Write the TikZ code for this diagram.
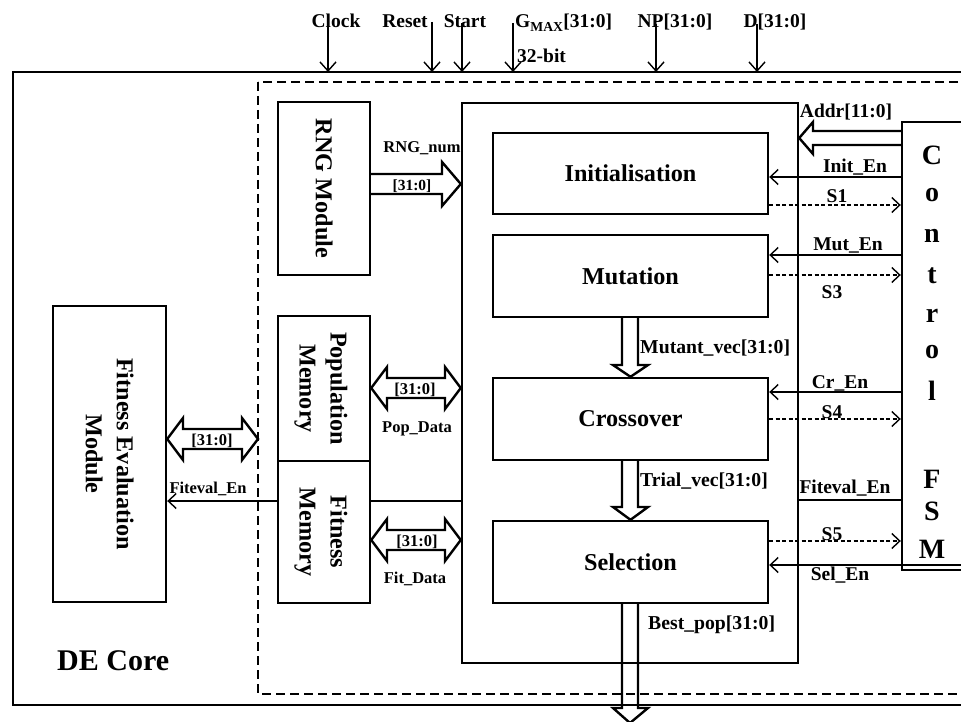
\documentclass[tikz,border=0pt]{standalone}
\usepackage{fontspec}
\setmainfont{Liberation Serif}
\usetikzlibrary{arrows.meta,calc}
\begin{document}
\begin{tikzpicture}[x=1pt,y=-1pt,
  box/.style={draw,line width=2.4pt,inner sep=0pt,align=center,
    font=\bfseries\fontsize{24.2}{31}\selectfont},
  sig/.style={line width=1.4pt,-{Straight Barb[length=8pt,width=15pt,line width=1.4pt]}},
  plain/.style={line width=1.4pt},
  ret/.style={sig,dash pattern=on 4pt off 2.5pt},
  fat/.style={line width=2.4pt,line join=miter},
  inp/.style={line width=1.4pt,-{Straight Barb[length=9pt,width=16pt,line width=1.4pt]}},
  lab/.style={font=\bfseries\fontsize{19.5}{22}\selectfont,inner sep=0pt,anchor=base},
  slab/.style={font=\bfseries\fontsize{16.5}{20}\selectfont,inner sep=0pt,anchor=base},
  mlab/.style={font=\bfseries\fontsize{19.7}{23}\selectfont,inner sep=0pt,anchor=base west},
  tlab/.style={font=\bfseries\fontsize{19.5}{23}\selectfont,inner sep=0pt,anchor=base},
  fsmletter/.style={font=\bfseries\fontsize{28}{30}\selectfont,inner sep=0pt,anchor=base},
]
\useasboundingbox (0,0) rectangle (961,722);
\clip (0,0) rectangle (961,722);

% containers
\draw[line width=2.4pt] (13,72) rectangle (990,705);
\draw[line width=2.4pt,dash pattern=on 9pt off 5pt] (258,82) rectangle (990,694);

% blocks
\node[box,minimum width=336,minimum height=560] (main) at (630,383) {};
\node[box,minimum width=275,minimum height=81] (init) at (630.5,173.5) {Initialisation};
\node[box,minimum width=275,minimum height=82] (mut) at (630.5,276) {\raisebox{-6pt}{Mutation}};
\node[box,minimum width=275,minimum height=82] (cross) at (630.5,419) {Crossover};
\node[box,minimum width=275,minimum height=82] (sel) at (630.5,562) {Selection};
\node[box,minimum width=92,minimum height=173] (rng) at (324,188.5) {};
\node[box,rotate=-90,draw=none] at (rng.center) {RNG Module};
\node[box,minimum width=92,minimum height=145] (pop) at (324,388.5) {};
\node[box,rotate=-90,draw=none] at ([xshift=-3pt]pop.center) {Population\\Memory};
\node[box,minimum width=92,minimum height=142] (fit) at (324,532) {};
\node[box,rotate=-90,draw=none] at ([xshift=-3pt]fit.center) {Fitness\\Memory};
\node[box,minimum width=113,minimum height=296] (fem) at (109.5,454) {};
\node[box,rotate=-90,draw=none] at (fem.center) {Fitness Evaluation\\Module};
\node[box,minimum width=88,minimum height=448] (fsm) at (946,346) {};
\foreach \ch/\yy in {C/165,o/202,n/243,t/283,r/322,o/358,l/400,F/488,S/520,M/558}
  \node[fsmletter] at (932,\yy) {\ch};

\node[font=\bfseries\fontsize{30}{34}\selectfont,inner sep=0pt,anchor=base west] (de) at (57,670) {DE Core};

% top inputs
\node[tlab] (clk) at (336,28) {Clock};
\node[tlab] (rst) at (405,28) {Reset};
\node[tlab] (stt) at (465,28) {Start};
\node[tlab,anchor=base west] (gmax) at (515,28) {G\textsubscript{MAX}[31:0]};
\node[tlab,anchor=base west] (bits) at (517,63) {32-bit};
\node[tlab] (np) at (675,28) {NP[31:0]};
\node[tlab] (dd) at (775,28) {D[31:0]};
\foreach \xx/\ys in {328/15,432/22,462/23,513/23,656/24,757/24}{
  \coordinate (in\xx) at (\xx,\ys);
  \draw[inp] (in\xx) -- (\xx,72);
}

% fat arrows
\draw[fat] (rng.east |- 0,174) -- (442,174) -- (442,162) -- (main.west |- 0,184) -- (442,206) -- (442,194) -- (rng.east |- 0,194);
\draw[fat] (fsm.west |- 0,131) -- (813,131) -- (813,122) -- (main.east |- 0,138) -- (813,154) -- (813,145) -- (fsm.west |- 0,145);
\draw[fat] (pop.east |- 0,388) -- (387,367) -- (387,378) -- (445,378) -- (445,367) -- (main.west |- 0,388) -- (445,409) -- (445,398) -- (387,398) -- (387,409) -- cycle;
\draw[fat] (fit.east |- 0,540) -- (387,519) -- (387,530) -- (445,530) -- (445,519) -- (main.west |- 0,540) -- (445,561) -- (445,550) -- (387,550) -- (387,561) -- cycle;
\draw[fat] (fem.east |- 0,439) -- (183,418) -- (183,429) -- (242,429) -- (242,418) -- (258,439) -- (242,460) -- (242,449) -- (183,449) -- (183,460) -- cycle;
\draw[fat] (622,0 |- mut.south) -- (622,365) -- (613,365) -- (cross.north) -- (648,365) -- (638,365) -- (638,0 |- mut.south);
\draw[fat] (622,0 |- cross.south) -- (622,507) -- (613,507) -- (sel.north) -- (648,507) -- (638,507) -- (638,0 |- cross.south);
\coordinate (out) at (630,723);
\draw[fat] (622,0 |- sel.south) -- (622,708) -- (613,708) -- (out) -- (648,708) -- (638,708) -- (638,0 |- sel.south);

% control signals
\draw[sig] (fsm.west |- 0,177) -- (init.east |- 0,177);
\draw[ret] (init.east |- 0,205) -- (fsm.west |- 0,205);
\draw[sig] (fsm.west |- 0,255) -- (mut.east |- 0,255);
\draw[ret] (mut.east |- 0,275) -- (fsm.west |- 0,275);
\draw[sig] (fsm.west |- 0,392) -- (cross.east |- 0,392);
\draw[ret] (cross.east |- 0,419) -- (fsm.west |- 0,419);
\draw[plain] (fsm.west |- 0,500) -- (main.east |- 0,500);
\draw[plain] (main.west |- 0,501) -- (fit.east |- 0,501);
\draw[sig] (fit.west |- 0,501) -- (fem.east |- 0,501);
\draw[ret] (sel.east |- 0,541) -- (fsm.west |- 0,541);
\coordinate (selin) at (990,565);
\draw[sig] (selin) -- (sel.east |- 0,565);

% labels
\node[lab] at (846,118) {Addr[11:0]};
\node[lab] at (855,173) {Init\_En};
\node[lab] at (837,203) {S1};
\node[lab] at (848,251) {Mut\_En};
\node[lab] at (832,298) {S3};
\node[lab] at (840,388) {Cr\_En};
\node[lab] at (832,418) {S4};
\node[lab] at (845,493) {Fiteval\_En};
\node[lab] at (832,540) {S5};
\node[lab] at (840,580) {Sel\_En};

\node[slab] at (422,153) {RNG\_num};
\node[slab,font=\bfseries\fontsize{15.5}{18}\selectfont] at (412,191) {[31:0]};
\node[slab] at (415,394) {[31:0]};
\node[slab] at (417,432) {Pop\_Data};
\node[slab] at (212,445) {[31:0]};
\node[slab] at (417,546) {[31:0]};
\node[slab] at (415,583) {Fit\_Data};
\node[slab] at (208,493) {Fiteval\_En};

\node[mlab] at (640,353) {Mutant\_vec[31:0]};
\node[mlab] at (640,486) {Trial\_vec[31:0]};
\node[mlab] at (648,629) {Best\_pop[31:0]};
\end{tikzpicture}
\end{document}
